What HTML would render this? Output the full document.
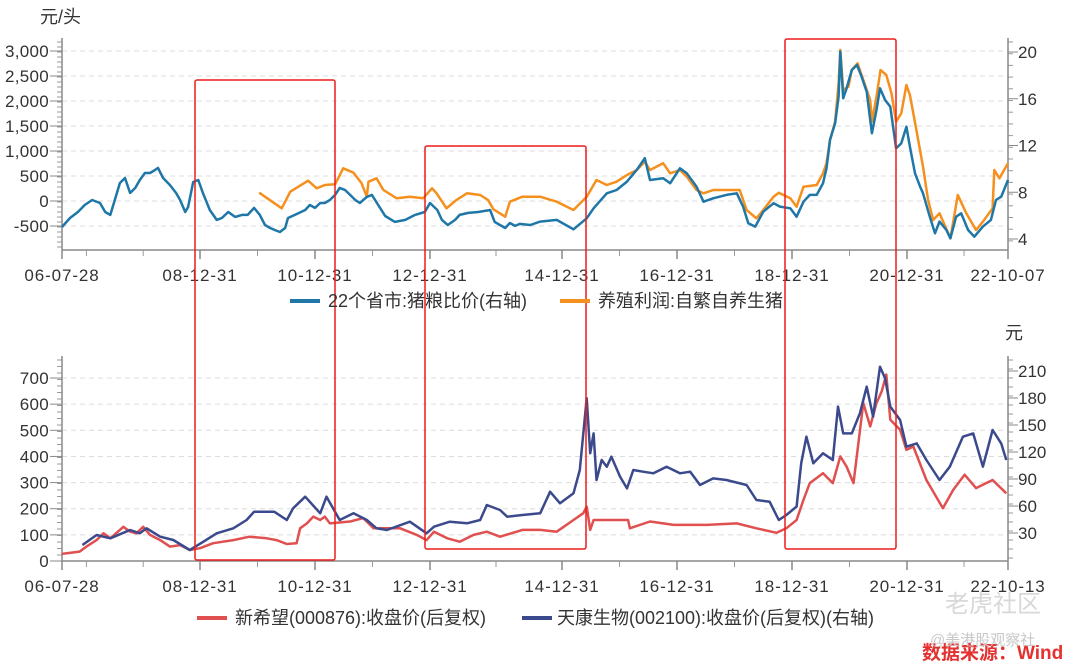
<!DOCTYPE html>
<html><head><meta charset="utf-8">
<style>
html,body{margin:0;padding:0;background:#fff;}
svg{display:block;font-family:"Liberation Sans","Noto Sans CJK SC",sans-serif;}
</style></head>
<body>
<svg id="chart" width="1080" height="667" viewBox="0 0 1080 667" xmlns="http://www.w3.org/2000/svg">
<g id="topChart"></g>
<g id="botChart"></g>
<g id="boxes"></g>
<text x="40" y="23" font-size="18" fill="#333">元/头</text>
<text x="1005" y="339" font-size="18" fill="#333">元</text>
<g>
<line x1="290" y1="301" x2="320" y2="301" stroke="#1f77a8" stroke-width="4"/>
<text x="328" y="307" font-size="18" fill="#333">22个省市:猪粮比价(右轴)</text>
<line x1="560" y1="301" x2="590" y2="301" stroke="#f5901e" stroke-width="4"/>
<text x="598" y="307" font-size="18" fill="#333">养殖利润:自繁自养生猪</text>
</g>
<g>
<line x1="197" y1="618" x2="227" y2="618" stroke="#e05050" stroke-width="4"/>
<text x="235" y="624" font-size="18" fill="#333">新希望(000876):收盘价(后复权)</text>
<line x1="522" y1="618" x2="552" y2="618" stroke="#3b4a8c" stroke-width="4"/>
<text x="557" y="624" font-size="18" fill="#333">天康生物(002100):收盘价(后复权)(右轴)</text>
</g>
<text x="945" y="612" font-size="24" fill="#d8d8d8">老虎社区</text>
<text x="922" y="659" font-size="19" fill="#e53030" font-weight="bold">数据来源：Wind</text>
<text x="930" y="645" font-size="15" fill="#c8c8c8">@美港股观察社</text>
</svg>
<script>
// ---- time axis data ----
const tickLabelsTop = ["06-07-28","08-12-31","10-12-31","12-12-31","14-12-31","16-12-31","18-12-31","20-12-31","22-10-07"];
const tickLabelsBot = ["06-07-28","08-12-31","10-12-31","12-12-31","14-12-31","16-12-31","18-12-31","20-12-31","22-10-13"];
const tickYears = [2006.57,2009,2011,2013,2015,2017,2019,2021,2022.77];
const minorYears = [2007,2008,2010,2012,2014,2016,2018,2020,2022];

// ---- top chart: pig-grain ratio (right axis) ----
const ratioYears = [2006.57,2006.71,2006.85,2006.97,2007.10,2007.24,2007.33,2007.42,2007.50,2007.59,2007.68,2007.77,2007.86,2007.94,2008.03,2008.12,2008.21,2008.26,2008.35,2008.47,2008.58,2008.65,2008.74,2008.79,2008.88,2008.97,2009.05,2009.17,2009.29,2009.38,2009.49,2009.61,2009.73,2009.83,2009.94,2010.04,2010.13,2010.22,2010.30,2010.39,2010.48,2010.53,2010.65,2010.83,2010.91,2011.00,2011.09,2011.17,2011.26,2011.35,2011.43,2011.52,2011.61,2011.70,2011.78,2011.90,2011.99,2012.10,2012.22,2012.39,2012.57,2012.74,2012.91,2013.00,2013.11,2013.18,2013.27,2013.38,2013.45,2013.58,2013.73,2013.91,2013.98,2014.14,2014.21,2014.29,2014.36,2014.52,2014.67,2014.92,2015.20,2015.43,2015.55,2015.78,2015.95,2016.13,2016.30,2016.44,2016.53,2016.76,2016.88,2017.05,2017.17,2017.34,2017.46,2017.63,2017.86,2018.04,2018.15,2018.24,2018.36,2018.50,2018.68,2018.79,2018.97,2019.08,2019.20,2019.31,2019.43,2019.54,2019.60,2019.66,2019.75,2019.81,2019.84,2019.89,2019.95,2020.04,2020.13,2020.21,2020.30,2020.39,2020.47,2020.53,2020.62,2020.71,2020.81,2020.90,2020.99,2021.05,2021.14,2021.23,2021.28,2021.40,2021.49,2021.57,2021.69,2021.76,2021.86,2021.95,2022.07,2022.18,2022.33,2022.47,2022.56,2022.65,2022.77];
const ratioValues = [5.03,5.8,6.31,6.91,7.34,7.08,6.31,6.06,7.34,8.79,9.22,7.94,8.37,9.05,9.65,9.65,9.91,10.08,9.22,8.62,7.94,7.34,6.31,6.74,8.88,9.05,7.94,6.48,5.63,5.8,6.31,5.89,6.06,6.06,6.66,6.06,5.2,4.94,4.77,4.6,4.94,5.8,6.06,6.48,6.91,6.66,7.08,7.08,7.34,7.77,8.37,8.2,7.77,7.34,7.08,7.6,7.77,6.91,5.97,5.46,5.63,6.06,6.31,7.08,6.48,5.63,5.2,5.63,6.06,6.23,6.31,6.48,5.46,4.94,5.37,5.12,5.29,5.2,5.49,5.63,4.83,5.77,6.63,7.91,8.19,8.91,9.91,10.91,9.05,9.2,8.77,10.05,9.62,8.48,7.19,7.48,7.77,7.91,6.77,5.35,5.06,6.34,7.06,6.77,6.63,5.91,7.19,7.77,7.77,8.77,10.05,12.47,13.9,16.18,20.03,16.04,16.89,18.46,18.89,17.89,16.6,13.05,15.04,16.89,15.89,15.32,11.76,12.19,13.61,11.9,9.62,8.48,7.91,5.91,4.49,5.49,4.77,4.06,5.91,6.2,4.77,4.2,5.06,5.63,7.34,7.62,9.05];

// ---- top chart: breeding profit (left axis) ----
const profitYears = [2010.03,2010.42,2010.57,2010.88,2011.03,2011.17,2011.35,2011.49,2011.67,2011.81,2011.90,2011.93,2012.07,2012.19,2012.42,2012.65,2012.88,2013.03,2013.10,2013.25,2013.40,2013.56,2013.76,2013.88,2013.96,2014.14,2014.21,2014.40,2014.67,2014.92,2015.20,2015.43,2015.60,2015.78,2015.95,2016.13,2016.30,2016.44,2016.53,2016.76,2016.88,2017.05,2017.17,2017.34,2017.46,2017.63,2017.86,2018.09,2018.21,2018.38,2018.50,2018.68,2018.77,2018.97,2019.08,2019.20,2019.43,2019.54,2019.60,2019.66,2019.75,2019.81,2019.84,2019.89,2019.98,2020.04,2020.14,2020.24,2020.36,2020.39,2020.47,2020.54,2020.64,2020.73,2020.81,2020.90,2020.99,2021.05,2021.17,2021.28,2021.37,2021.46,2021.57,2021.76,2021.89,2022.04,2022.21,2022.33,2022.50,2022.53,2022.62,2022.77];
const profitValues = [166,-146,186,406,254,320,334,654,566,354,86,386,454,220,54,86,54,254,154,-146,20,154,120,20,-166,-314,-14,86,86,-14,-180,86,420,320,386,520,620,786,620,754,554,620,486,220,154,220,220,220,-180,-346,-180,86,166,54,-114,286,320,554,754,1220,1586,2354,3020,2220,2286,2620,2754,2420,2020,1586,2086,2620,2520,2154,1586,1754,2320,2120,1386,686,20,-380,-246,-746,120,-246,-580,-414,-146,620,454,754];

// ---- bottom chart: 新希望 (left axis) ----
const xxwYears = [2006.57,2006.88,2007.00,2007.18,2007.30,2007.42,2007.59,2007.65,2007.77,2007.88,2008.00,2008.12,2008.30,2008.47,2008.65,2008.82,2009.00,2009.23,2009.58,2009.86,2010.16,2010.33,2010.51,2010.68,2010.74,2010.86,2010.97,2011.09,2011.17,2011.26,2011.61,2011.84,2012.02,2012.48,2012.77,2012.94,2013.06,2013.26,2013.45,2013.66,2013.86,2014.06,2014.40,2014.67,2014.92,2015.20,2015.37,2015.43,2015.49,2015.55,2016.15,2016.18,2016.53,2016.94,2017.52,2018.04,2018.38,2018.73,2018.90,2019.08,2019.20,2019.31,2019.54,2019.71,2019.84,2019.95,2020.07,2020.24,2020.36,2020.47,2020.56,2020.64,2020.71,2020.88,2020.99,2021.11,2021.34,2021.63,2021.81,2022.01,2022.21,2022.50,2022.74];
const xxwValues = [27,36,55,80,106,87,119,131,112,106,131,100,80,55,61,42,49,68,80,93,87,80,65,68,125,144,170,157,170,144,151,164,125,125,100,80,112,87,74,100,112,93,119,119,112,157,183,208,119,157,157,125,151,138,138,144,125,108,125,157,234,298,336,298,400,361,298,604,515,604,649,713,540,502,425,438,310,202,272,330,279,310,259];

// ---- bottom chart: 天康生物 (right axis) ----
const tkYears = [2006.93,2007.18,2007.42,2007.77,2007.94,2008.06,2008.30,2008.53,2008.82,2009.06,2009.29,2009.58,2009.81,2009.94,2010.29,2010.51,2010.62,2010.83,2011.09,2011.20,2011.43,2011.67,2011.90,2012.07,2012.25,2012.65,2012.94,2013.06,2013.30,2013.56,2013.76,2013.86,2014.06,2014.17,2014.40,2014.67,2014.82,2014.97,2015.20,2015.31,2015.43,2015.49,2015.55,2015.60,2015.69,2015.78,2015.86,2016.01,2016.13,2016.24,2016.41,2016.59,2016.82,2017.05,2017.23,2017.40,2017.63,2017.86,2018.21,2018.38,2018.61,2018.77,2018.90,2019.08,2019.16,2019.25,2019.37,2019.54,2019.71,2019.80,2019.89,2020.04,2020.18,2020.30,2020.41,2020.53,2020.62,2020.71,2020.88,2020.99,2021.17,2021.34,2021.57,2021.75,2021.98,2022.16,2022.33,2022.50,2022.65,2022.74];
const tkValues = [16.7,27.8,24.1,33.3,29.7,35.2,25.9,22.2,11.1,20.3,29.7,35.2,44.4,53.7,53.7,44.4,57.4,70.3,51.9,70.3,44.4,51.9,44.4,35.2,33.3,42.6,29.7,37,42.6,40.8,44.4,61.1,55.6,48.1,50,51.9,75.9,63,74.1,100,179.7,118.6,140.7,88.9,111.1,103.7,114.8,92.6,79.6,100,98.1,96.3,103.7,96.3,98.1,83.3,90.7,88.9,83.3,66.7,64.8,44.4,50,59.3,107.4,137,107.4,118.6,111.1,170.4,140.7,140.7,163,192.6,159.3,214.8,201.9,170.4,155.6,125.9,129.6,111.1,88.9,103.7,137,140.7,103.7,144.4,129.6,111.1];

const topLeftTicks = [-500,0,500,1000,1500,2000,2500,3000];
const topLeftLabels = ["-500","0","500","1,000","1,500","2,000","2,500","3,000"];
const topRightTicks = [4,8,12,16,20];
const botLeftTicks = [0,100,200,300,400,500,600,700];
const botRightTicks = [30,60,90,120,150,180,210];

const NS="http://www.w3.org/2000/svg";
const anchorPx=[62,200,315,430,562,677,792,907,1008];
function xScale(yr){
  for(let i=0;i<tickYears.length-1;i++){
    if(yr<=tickYears[i+1]||i===tickYears.length-2){
      const t=(yr-tickYears[i])/(tickYears[i+1]-tickYears[i]);
      return anchorPx[i]+t*(anchorPx[i+1]-anchorPx[i]);
    }
  }
}
const yTopL=v=>201-v*0.05;
const yTopR=v=>52+(20-v)*(187/16);
const yBotL=v=>561-v*0.2614;
const yBotR=v=>533-(v-30)*0.9;

function el(parent,tag,attrs){const e=document.createElementNS(NS,tag);for(const k in attrs)e.setAttribute(k,attrs[k]);parent.appendChild(e);return e;}

function drawAxes(g,cfg){
  cfg.leftTicks.forEach((v,i)=>{
    const y=cfg.yL(v);
    const gl=el(g,'line',{x1:62,x2:1008,y1:y,y2:y,stroke:'#dcdcdc','stroke-dasharray':'5,4','stroke-width':1});
    
    
    const tk=el(g,'line',{x1:50,x2:62,y1:y,y2:y,stroke:'#888'});
    
    
    const t=el(g,'text',{x:49,y:y+6,'text-anchor':'end','font-size':17,fill:'#333','letter-spacing':0.3});
    t.textContent=cfg.leftLabels[i];
    
    
  });
  for(let y=cfg.yTop;y<=cfg.yBase;y+=cfg.minorStep){
    const m=el(g,'line',{x1:57,x2:62,y1:y,y2:y,stroke:'#999'});
    
    
  }
  cfg.rightTicks.forEach(v=>{
    const y=cfg.yR(v);
    const tk=el(g,'line',{x1:1008,x2:1018,y1:y,y2:y,stroke:'#888'});
    
    
    const t=el(g,'text',{x:1018,y:y+6,'font-size':17,fill:'#333'});
    t.textContent=String(v);
    
    
  });
  for(let y=cfg.yTop;y<=cfg.yBase;y+=cfg.rMinor){
    const m=el(g,'line',{x1:1008,x2:1013,y1:y,y2:y,stroke:'#999'});
    
    
  }
  const la=el(g,'line',{x1:62,x2:62,y1:cfg.yTop-4,y2:cfg.yBase,stroke:'#888','stroke-width':1.5});
  
  
  const ra=el(g,'line',{x1:1008,x2:1008,y1:cfg.yTop-4,y2:cfg.yBase,stroke:'#888','stroke-width':1.5});
  
  
  const xa=el(g,'line',{x1:62,x2:1008,y1:cfg.yBase,y2:cfg.yBase,stroke:'#888','stroke-width':1.5});
  
  
  tickYears.forEach((yr,i)=>{
    const x=xScale(yr);
    const tk=el(g,'line',{x1:x,x2:x,y1:cfg.yBase,y2:cfg.yBase+9,stroke:'#888','stroke-width':1.5});
    
    
    const t=el(g,'text',{x:x,y:cfg.yBase+31,'text-anchor':'middle','font-size':17,fill:'#333','letter-spacing':0.9});
    t.textContent=cfg.xLabels[i];
    
    
  });
  minorYears.forEach(yr=>{
    const x=xScale(yr);
    const tk=el(g,'line',{x1:x,x2:x,y1:cfg.yBase,y2:cfg.yBase+6,stroke:'#999'});
    
    
  });
}
function drawLine(g,xs,vs,ys,color,w,name){
  const d=xs.map((x,i)=>(i?'L':'M')+xScale(x).toFixed(1)+','+ys(vs[i]).toFixed(1)).join('');
  const p=el(g,'path',{d:d,fill:'none',stroke:color,'stroke-width':w,'stroke-linejoin':'round'});
  
  
}
const topG=document.getElementById('topChart');
drawAxes(topG,{leftTicks:topLeftTicks,leftLabels:topLeftLabels,yL:yTopL,rightTicks:topRightTicks,yR:yTopR,yTop:42,yBase:250,minorStep:5,rMinor:11.7,xLabels:tickLabelsTop});
drawLine(topG,profitYears,profitValues,yTopL,'#f5901e',2.5,'profit-line');
drawLine(topG,ratioYears,ratioValues,yTopR,'#1f77a8',2.5,'ratio-line');

const botG=document.getElementById('botChart');
drawAxes(botG,{leftTicks:botLeftTicks,leftLabels:botLeftTicks.map(String),yL:yBotL,rightTicks:botRightTicks,yR:yBotR,yTop:360,yBase:561,minorStep:6.5,rMinor:9,xLabels:tickLabelsBot});
drawLine(botG,xxwYears,xxwValues,yBotL,'#e05050',2.5,'xinxiwang-line');
drawLine(botG,tkYears,tkValues,yBotR,'#3b4a8c',2.5,'tiankang-line');

const boxesG=document.getElementById('boxes');
[[195,80,140,480],[425,146,161,403],[785,39,111,510]].forEach(b=>{
  const r=el(boxesG,'rect',{x:b[0],y:b[1],width:b[2],height:b[3],fill:'none',stroke:'#ee1c1c','stroke-width':1.5,rx:2});
  
  
});
</script>
</body></html>
